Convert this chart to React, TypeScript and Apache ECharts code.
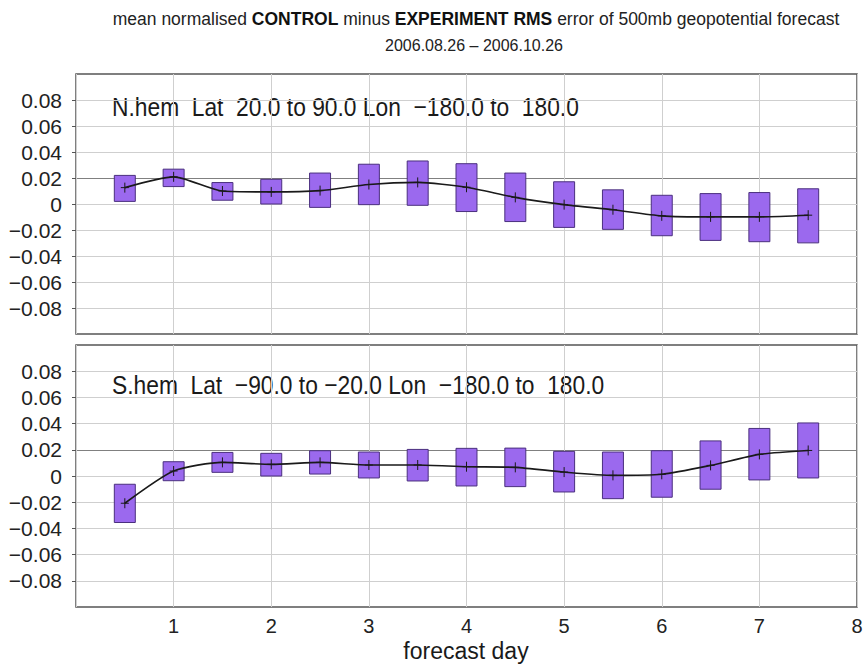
import React, { useEffect, useRef } from 'react';
import * as echarts from 'echarts';

const days = [0.5, 1, 1.5, 2, 2.5, 3, 3.5, 4, 4.5, 5, 5.5, 6, 6.5, 7, 7.5];
const nhMean = [0.0126, 0.0209, 0.0100, 0.0093, 0.0103, 0.0150, 0.0166, 0.0129, 0.0051, -0.0005, -0.0044, -0.0091, -0.0099, -0.0099, -0.0086];
const nhLow = [0.0020, 0.0134, 0.0029, 0.0000, -0.0026, -0.0005, -0.0010, -0.0058, -0.0135, -0.0180, -0.0195, -0.0244, -0.0280, -0.0290, -0.0299];
const nhHigh = [0.0220, 0.0268, 0.0165, 0.0190, 0.0238, 0.0306, 0.0331, 0.0310, 0.0238, 0.0171, 0.0109, 0.0067, 0.0080, 0.0088, 0.0117];
const shMean = [-0.0208, 0.0038, 0.0104, 0.0089, 0.0104, 0.0084, 0.0084, 0.0071, 0.0066, 0.0030, 0.0005, 0.0013, 0.0081, 0.0165, 0.0195];
const shLow = [-0.0355, -0.0036, 0.0028, 0.0000, 0.0015, -0.0015, -0.0038, -0.0076, -0.0081, -0.0122, -0.0173, -0.0162, -0.0101, -0.0030, -0.0015];
const shHigh = [-0.0063, 0.0109, 0.0180, 0.0173, 0.0193, 0.0183, 0.0203, 0.0211, 0.0213, 0.0188, 0.0183, 0.0193, 0.0268, 0.0363, 0.0405];

const yTickValues = [-0.08, -0.06, -0.04, -0.02, 0, 0.02, 0.04, 0.06, 0.08];

const titleLine1 = 'mean normalised {b|CONTROL} minus {b|EXPERIMENT RMS} error of 500mb geopotential forecast';
const titleLine2 = '2006.08.26 \u2013 2006.10.26';
const nhLabel = 'N.hem  Lat  20.0 to 90.0 Lon  \u2212180.0 to  180.0';
const shLabel = 'S.hem  Lat  \u221290.0 to \u221220.0 Lon  \u2212180.0 to  180.0';
const xName = 'forecast day';

const FONT = '"Liberation Sans", Arial, Helvetica, sans-serif';
const BOX_W = 0.215;
const BOX_FILL = '#9b69ee';
const BOX_STROKE = '#4a2f7e';

const yFmt = (v: number) => {
  if (Math.abs(v) > 0.09) return '';
  if (Math.abs(v) < 1e-9) return '0';
  const s = Math.abs(v).toFixed(2);
  return v < 0 ? '\u2212' + s : s;
};

const splitColors = ['#cfcfcf', '#cfcfcf', '#cfcfcf', '#cfcfcf', '#cfcfcf', '#808080', '#cfcfcf', '#cfcfcf', '#cfcfcf', '#cfcfcf', '#cfcfcf'];

const boxRender = (_p: any, api: any) => {
  const x = api.value(0);
  const top = api.coord([x, api.value(2)]);
  const bot = api.coord([x, api.value(1)]);
  const w = api.size([BOX_W, 0])[0];
  return {
    type: 'rect',
    shape: { x: top[0] - w / 2, y: top[1], width: w, height: bot[1] - top[1] },
    style: { fill: BOX_FILL, stroke: BOX_STROKE, lineWidth: 1 },
  };
};

const plusRender = (_p: any, api: any) => {
  const p = api.coord([api.value(0), api.value(3)]);
  return {
    type: 'group',
    children: [
      { type: 'line', shape: { x1: p[0] - 4, y1: p[1], x2: p[0] + 4, y2: p[1] }, style: { stroke: '#1a1a1a', lineWidth: 1 } },
      { type: 'line', shape: { x1: p[0], y1: p[1] - 5, x2: p[0], y2: p[1] + 5 }, style: { stroke: '#1a1a1a', lineWidth: 1 } },
    ],
  };
};

const makeData = (lo: number[], hi: number[], m: number[]) => days.map((d, i) => [d, lo[i], hi[i], m[i]]);

export default function App() {
  const ref = useRef<HTMLDivElement>(null);
  useEffect(() => {
    if (!ref.current) return;
    const chart = echarts.init(ref.current, undefined, { renderer: 'svg' });
    const grids = [
      { left: 76, right: 10, top: 74, height: 260 },
      { left: 76, right: 10, top: 345, height: 262 },
    ].map((g) => ({ ...g, show: true, borderColor: '#555', borderWidth: 1.5, backgroundColor: 'transparent' }));

    const xAxis = [0, 1].map((i) => ({
      type: 'value',
      gridIndex: i,
      min: 0,
      max: 8,
      interval: 1,
      axisLine: { show: false, onZero: false },
      axisTick: { show: false },
      axisLabel: {
        show: i === 1,
        fontSize: 20,
        fontFamily: FONT,
        color: '#222',
        margin: 9,
        showMinLabel: false,
        formatter: (v: number) => String(v),
      },
      splitLine: { show: true, lineStyle: { color: '#cfcfcf', width: 1 } },
    }));

    const yAxis = [0, 1].map((i) => ({
      type: 'value',
      gridIndex: i,
      min: -0.1,
      max: 0.1,
      interval: 0.02,
      axisLine: { show: false, onZero: false },
      axisTick: { show: true, inside: false, length: 4, lineStyle: { color: '#555' }, customValues: yTickValues },
      axisLabel: { fontSize: 21, fontFamily: FONT, color: '#222', margin: 14, formatter: yFmt },
      splitLine: { show: true, lineStyle: { color: splitColors, width: 1 } },
    }));

    const panel = (i: number, lo: number[], hi: number[], m: number[]) => {
      const data = makeData(lo, hi, m);
      return [
        { type: 'custom', xAxisIndex: i, yAxisIndex: i, data, renderItem: boxRender, z: 2, silent: true },
        {
          type: 'line',
          xAxisIndex: i,
          yAxisIndex: i,
          data: days.map((d, k) => [d, m[k]]),
          smooth: 0.22,
          symbol: 'none',
          lineStyle: { color: '#1a1a1a', width: 1.6 },
          z: 3,
          silent: true,
        },
        { type: 'custom', xAxisIndex: i, yAxisIndex: i, data, renderItem: plusRender, z: 4, silent: true },
      ];
    };

    chart.setOption({
      animation: false,
      backgroundColor: '#ffffff',
      grid: grids,
      xAxis,
      yAxis,
      series: [...panel(0, nhLow, nhHigh, nhMean), ...panel(1, shLow, shHigh, shMean)],
      graphic: [
        {
          type: 'text',
          x: 476,
          y: 19,
          style: {
            text: titleLine1,
            fontSize: 17.5,
            fontFamily: FONT,
            fill: '#222',
            textAlign: 'center',
            textVerticalAlign: 'middle',
            align: 'center',
            verticalAlign: 'middle',
            rich: { b: { fontSize: 17.5, fontFamily: FONT, fontWeight: 'bold', fill: '#111' } },
          },
        },
        {
          type: 'text',
          x: 474,
          y: 45,
          style: {
            text: titleLine2,
            fontSize: 16,
            fontFamily: FONT,
            fill: '#222',
            textAlign: 'center',
            textVerticalAlign: 'middle',
            align: 'center',
            verticalAlign: 'middle',
          },
        },
        {
          type: 'text',
          x: 112,
          y: 107,
          scaleX: 0.877,
          style: {
            text: nhLabel,
            fontSize: 26,
            fontFamily: FONT,
            fill: '#1a1a1a',
            textAlign: 'left',
            textVerticalAlign: 'middle',
            align: 'left',
            verticalAlign: 'middle',
          },
        },
        {
          type: 'text',
          x: 112,
          y: 385,
          scaleX: 0.877,
          style: {
            text: shLabel,
            fontSize: 26,
            fontFamily: FONT,
            fill: '#1a1a1a',
            textAlign: 'left',
            textVerticalAlign: 'middle',
            align: 'left',
            verticalAlign: 'middle',
          },
        },
        {
          type: 'text',
          x: 466,
          y: 651,
          style: {
            text: xName,
            fontSize: 23,
            fontFamily: FONT,
            fill: '#1a1a1a',
            textAlign: 'center',
            textVerticalAlign: 'middle',
            align: 'center',
            verticalAlign: 'middle',
          },
        },
      ],
    });
    return () => chart.dispose();
  }, []);
  return (
    <div
      ref={ref}
      style={{ position: 'fixed', left: 0, top: 0, width: 867, height: 666, background: '#fff' }}
    />
  );
}
